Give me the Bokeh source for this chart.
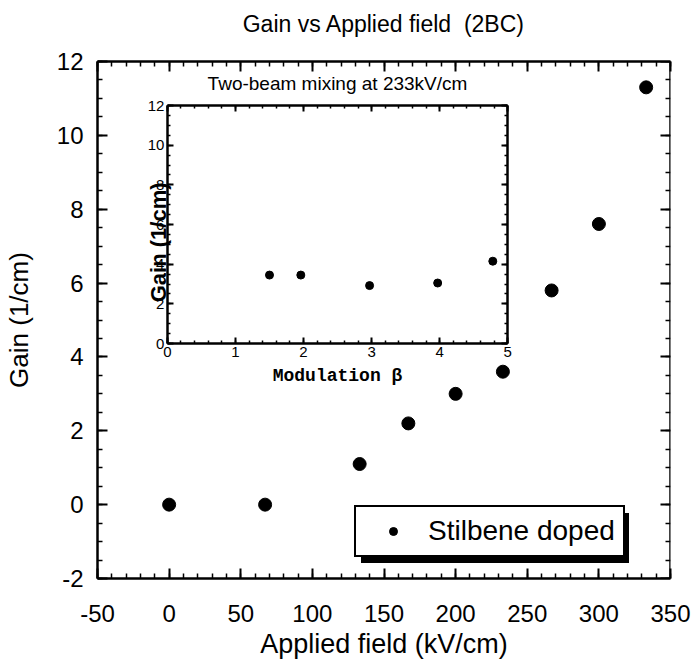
import numpy as np
from bokeh.plotting import figure
from bokeh.models import (Range1d, LinearAxis, Label, Legend, LegendItem,
                          FixedTicker, CustomJSTickFormatter)
from bokeh.embed import file_html
from bokeh.resources import INLINE

# ---- data ----
field = [0, 67, 133, 167, 200, 233, 267, 300, 333]
gain = [0.0, 0.0, 1.1, 2.2, 3.0, 3.6, 5.8, 7.6, 11.3]
beta = [1.5, 1.96, 2.97, 3.97, 4.78]
inset_gain = [3.45, 3.45, 2.92, 3.05, 4.15]

x_major = [-50, 0, 50, 100, 150, 200, 250, 300, 350]
y_major = [-2, 0, 2, 4, 6, 8, 10, 12]
ix_major = [0, 1, 2, 3, 4, 5]
iy_major = [0, 2, 4, 6, 8, 10, 12]

FONT = "Liberation Sans"

# ---- layout (figure pixels) ----
W, H = 691, 666
L, R, T, B = 96, 21, 61, 88
fw, fh = W - L - R, H - T - B
XR, YR = (-50, 350), (-2, 12)

p = figure(width=W, height=H, x_range=Range1d(*XR), y_range=Range1d(*YR),
           output_backend="svg", toolbar_location=None,
           min_border_left=L, min_border_right=R, min_border_top=T, min_border_bottom=B)
p.title.visible = False
p.xgrid.visible = False
p.ygrid.visible = False
p.outline_line_color = None
p.background_fill_color = "white"
p.border_fill_color = "white"

plain = CustomJSTickFormatter(code="return tick.toString()")
blank = CustomJSTickFormatter(code="return ''")

def style_axis(ax, size="24px"):
    ax.axis_line_width = 2.5
    ax.axis_line_color = "black"
    ax.major_tick_in = 10
    ax.major_tick_out = 0
    ax.minor_tick_in = 5
    ax.minor_tick_out = 0
    ax.major_tick_line_width = 2
    ax.minor_tick_line_width = 1.5
    ax.major_tick_line_color = "black"
    ax.minor_tick_line_color = "black"
    ax.major_label_text_font = FONT
    ax.major_label_text_font_size = size
    ax.major_label_text_color = "black"
    ax.axis_label_text_font = FONT
    ax.axis_label_text_font_style = "normal"
    ax.axis_label_text_color = "black"

xt = FixedTicker(ticks=x_major, minor_ticks=list(range(-50, 351, 10)))
yt = FixedTicker(ticks=y_major, minor_ticks=list(np.arange(-2, 12.01, 0.5)))

xa = p.xaxis[0]
xa.ticker = xt
xa.formatter = plain
style_axis(xa)
xa.major_label_standoff = 26
xa.axis_label = "Applied field (kV/cm)"
xa.axis_label_text_font_size = "27px"
xa.axis_label_standoff = 4

ya = p.yaxis[0]
ya.ticker = yt
ya.formatter = plain
style_axis(ya)
ya.axis_label = "Gain (1/cm)"
ya.axis_label_text_font_size = "26px"
ya.major_label_standoff = 14
ya.axis_label_standoff = 20

# top axis (in the top panel) carries the chart title as its axis label
top = LinearAxis(ticker=xt, formatter=blank)
style_axis(top, size="0px")
top.major_label_standoff = 0
top.axis_label = "Gain vs Applied field\u00a0 (2BC)"
top.axis_label_text_font_size = "23px"
top.axis_label_standoff = 25
p.add_layout(top, "above")
right = LinearAxis(ticker=yt, formatter=blank, fixed_location=XR[1])
style_axis(right)
p.add_layout(right, "right")

r = p.scatter(field, gain, size=13, color="black")

# ---- legend with drop shadow ----
leg_kw = dict(label_text_font=FONT, label_text_font_size="28px", label_width=186,
              glyph_width=58, label_standoff=6, padding=8, margin=0,
              border_line_alpha=1.0)
shadow = Legend(items=[LegendItem(label="\u00a0", renderers=[r])],
                location=(264, 15), background_fill_color="black", background_fill_alpha=1,
                border_line_color="black", label_text_color="black", **leg_kw)
legend = Legend(items=[LegendItem(label="Stilbene doped", renderers=[r])],
                location=(257, 21), background_fill_color="white", background_fill_alpha=1,
                border_line_color="black", border_line_width=2, label_text_color="black",
                **leg_kw)
p.add_layout(shadow)
p.add_layout(legend)

# ---- inset (positions relative to main frame, figure pixels) ----
il, ir, it, ib = L + 70, L + 411, T + 44, T + 282
ipx = (ir - il) / 5.0
ipy = (ib - it) / 12.0
fl, fr, ft, fb = L, L + fw, T, T + fh
p.extra_x_ranges["ix"] = Range1d(0 - (il - fl) / ipx, 5 + (fr - ir) / ipx)
p.extra_y_ranges["iy"] = Range1d(0 - (fb - ib) / ipy, 12 + (it - ft) / ipy)

ixt = FixedTicker(ticks=ix_major, minor_ticks=list(np.arange(0, 5.01, 0.2)))
iyt = FixedTicker(ticks=iy_major, minor_ticks=list(np.arange(0, 12.01, 0.5)))

def inset_axis(ticker, loc, bounds, labels=True):
    ax = LinearAxis(ticker=ticker, x_range_name="ix", y_range_name="iy",
                    fixed_location=loc, bounds=bounds)
    ax.axis_line_width = 2.5
    ax.axis_line_color = "black"
    ax.major_tick_in = 6
    ax.major_tick_out = 0
    ax.minor_tick_in = 3
    ax.minor_tick_out = 0
    ax.major_tick_line_width = 2
    ax.minor_tick_line_width = 1.5
    ax.major_tick_line_color = "black"
    ax.minor_tick_line_color = "black"
    ax.major_label_text_font = FONT
    ax.major_label_text_font_size = "15px"
    ax.major_label_text_color = "black"
    ax.major_label_standoff = 3
    ax.formatter = plain if labels else blank
    return ax

ib_ax = inset_axis(ixt, 0, (0, 5))
ib_ax.axis_label = "Modulation β"
ib_ax.axis_label_text_font = "Liberation Mono"
ib_ax.axis_label_text_font_style = "bold"
ib_ax.axis_label_text_font_size = "18px"
ib_ax.axis_label_text_color = "black"
ib_ax.axis_label_standoff = 6
p.add_layout(ib_ax, "below")
it_ax = inset_axis(ixt, 12, (0, 5), labels=False)
it_ax.major_label_text_font_size = "0px"
it_ax.major_label_standoff = 0
it_ax.axis_label = "Two-beam mixing at 233kV/cm"
it_ax.axis_label_text_font = FONT
it_ax.axis_label_text_font_style = "normal"
it_ax.axis_label_text_font_size = "19px"
it_ax.axis_label_text_color = "black"
it_ax.axis_label_standoff = 12
p.add_layout(it_ax, "above")
p.add_layout(inset_axis(iyt, 0, (0, 12)), "left")
p.add_layout(inset_axis(iyt, 5, (0, 12), labels=False), "right")

p.scatter(beta, inset_gain, size=8, color="black", x_range_name="ix", y_range_name="iy")

p.add_layout(Label(x=-9 / ipx, y=5.1, x_range_name="ix", y_range_name="iy",
                   text="Gain (1/cm)", angle=np.pi / 2, text_align="center",
                   text_baseline="middle", text_font=FONT, text_font_size="22px",
                   text_font_style="bold", text_color="black"))

open("out.html", "w").write(file_html(p, INLINE))
